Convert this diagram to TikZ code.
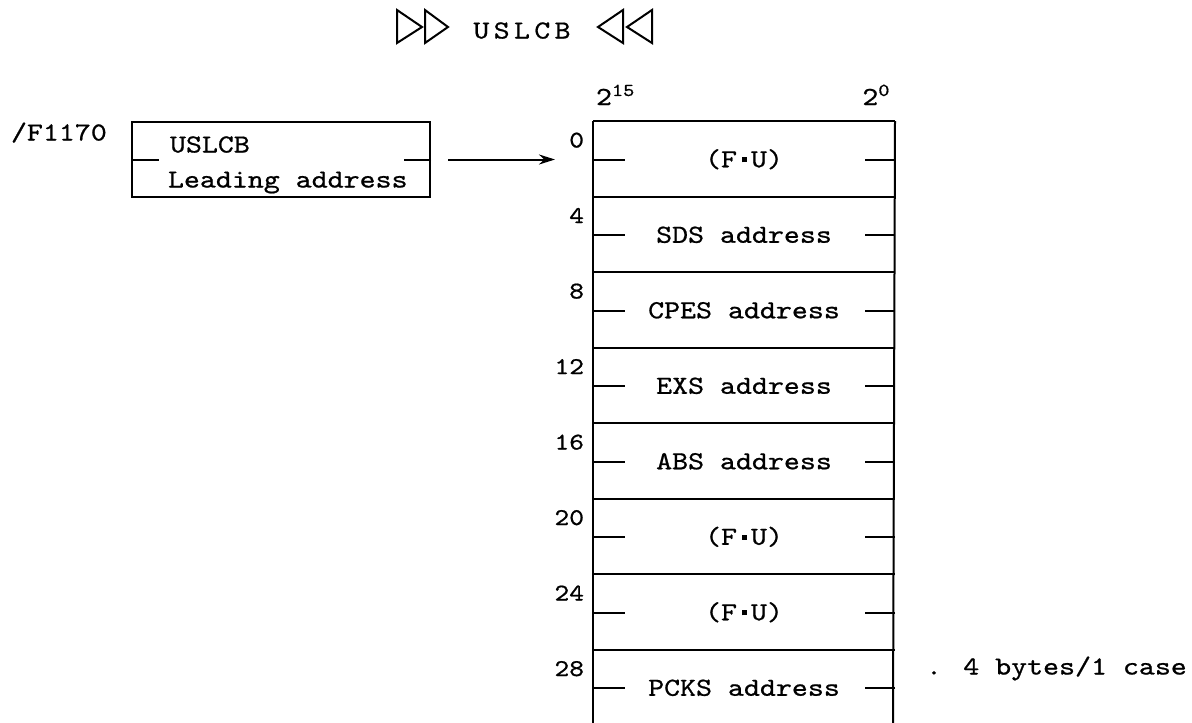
\documentclass[tikz,border=0pt]{standalone}
\usepackage{fontspec}
% typewriter face, widened to the pitch of the table lettering
\setmainfont{lmmono10-regular}[Extension=.otf,FakeStretch=1.17,FakeBold=0.8]
\usetikzlibrary{arrows.meta}
% heavy centre dot used in (F.U)
\newcommand\fudot{\makebox[14pt]{\raisebox{5pt}{\rule{5pt}{5pt}}}}
\begin{document}
\begin{tikzpicture}[x=1pt,y=-1pt,line width=2pt,line join=miter,
  mono/.style={font=\fontsize{26}{30}\selectfont,inner sep=0pt},
  cell/.style={mono,minimum width=300pt,minimum height=75.5pt,
    text height=15pt,text depth=0pt,anchor=north west},
  offset/.style={font=\fontsize{24}{28}\selectfont,inner sep=0pt,
    text height=15pt,text depth=0pt,anchor=east},
  tri/.style={line width=2pt,line join=miter},
  ptr/.style={-{Stealth[length=16pt,width=10pt]},line width=2pt}]
\useasboundingbox (0,0) rectangle (1192,723);

% heading with double triangles
\node[mono,text height=15pt,text depth=0pt] (title) at (522,31) {U\,S\,L\,C\,B};
\draw[tri] (397,10) -- (422,27) -- (397,43) -- cycle;
\draw[tri] (425,10) -- (448,27) -- (425,43) -- cycle;
\draw[tri] (623,10) -- (598,27) -- (623,43) -- cycle;
\draw[tri] (652,10) -- (627,27) -- (652,43) -- cycle;

% pointer word at /F1170
\node[mono,anchor=west,text height=15pt,text depth=0pt] (addr) at (10,133) {/F1170};
\node[draw,minimum width=298pt,minimum height=75pt,inner sep=0pt] (lbox) at (281,159.5) {};
\node[mono,anchor=west,text height=15pt,text depth=0pt] (ltop) at (169,145) {USLCB};
\node[mono,anchor=west,text height=15pt,text depth=0pt] (lbot) at (167,180) {Leading address};
\draw (lbox.west) -- ++(28,0);
\draw (lbox.east) -- ++(-27,0);

% table rows
\foreach \i/\lab/\off in {0/(F\fudot U)/0,1/SDS address/4,2/CPES address/8,
    3/EXS address/12,4/ABS address/16,5/(F\fudot U)/20,6/(F\fudot U)/24,7/PCKS address/28}{
  \node[cell] (row\i) at (593,121+\i*75.5) {\lab};
  \node[offset] (off\i) at (585,121+\i*75.5+19) {\off};
  \draw (row\i.north west) -- (row\i.north east);
  \draw (row\i.west) -- ++(32,0);
  \draw (row\i.east) -- ++(-30,0);
}
\draw (row0.north west) -- (593,723);
\draw (row0.north east) -- (893,723);

% bit numbering
\node[mono,anchor=base west] (msb) at (595,105) {2\textsuperscript{15}};
\node[mono,anchor=base east] (lsb) at (891,105) {2\textsuperscript{0}};

% pointer arrow
\draw[ptr,shorten <=17pt,shorten >=38pt] (lbox.east) -- (lbox.east -| row0.west);

% note
\node[mono,anchor=west,text height=15pt,text depth=0pt] (note) at (925,667) {. 4 bytes/1 case};
\end{tikzpicture}
\end{document}
